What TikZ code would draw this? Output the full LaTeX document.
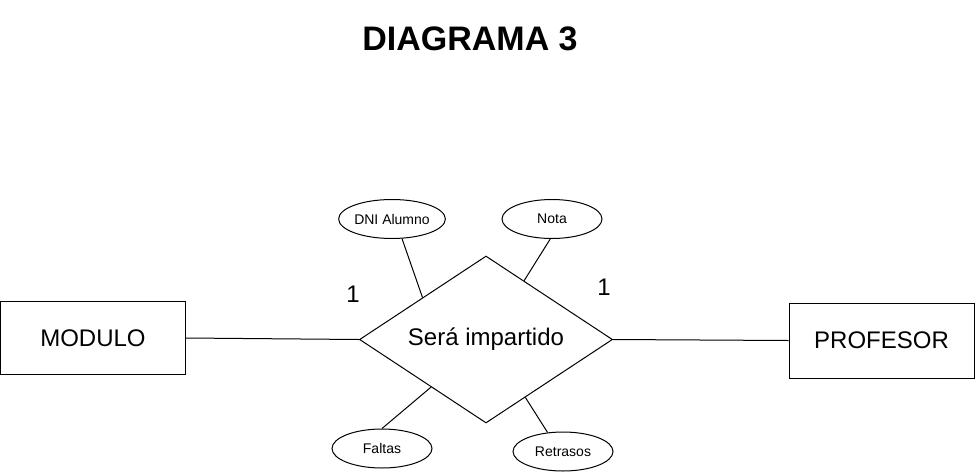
\documentclass[tikz,border=0pt]{standalone}
\usepackage{fontspec}
\setmainfont{Liberation Sans}
\usetikzlibrary{shapes.geometric,calc}
\tikzset{
  entbox/.style={draw,line width=1pt,minimum width=185pt,minimum height=73pt,inner sep=0pt,font=\fontsize{24}{28}\selectfont},
  attr/.style={draw,ellipse,line width=1pt,minimum width=100pt,minimum height=39pt,inner sep=0pt,font=\fontsize{14}{16}\selectfont},
  rel/.style={draw,diamond,line width=1pt,minimum width=253pt,minimum height=167pt,aspect=1.515,inner sep=0pt,font=\fontsize{24}{28}\selectfont},
  card/.style={font=\fontsize{24}{28}\selectfont,inner sep=0pt},
  link/.style={line width=1pt}
}
\begin{document}
\begin{tikzpicture}[x=1pt,y=-1pt]
\useasboundingbox (0,0) rectangle (976,474);
% title
\node[font=\bfseries\fontsize{34}{38}\selectfont] (title) at (470,39) {DIAGRAMA 3};
% entities and relationship
\node[entbox] (modulo) at (93,338) {MODULO};
\node[entbox,minimum height=75pt] (profesor) at (881.5,340.5) {PROFESOR};
\node[rel] (imparte) at (486,339.5) {Será impartido};
% attributes
\node[attr] (dni) at (392,219) {DNI Alumno};
\node[attr] (nota) at (552,219) {Nota};
\node[attr] (faltas) at (382,448.5) {Faltas};
\node[attr] (retrasos) at (563,451.5) {Retrasos};
% cardinalities
\node[card] (cardmod) at (353,294) {1};
\node[card] (cardprof) at (604,287) {1};
% connectors
\draw[link] (modulo.east) -- (imparte.west);
\draw[link] (imparte.east) -- (profesor.west);
\draw[link] (dni.-63) -- ($(imparte.west)!0.5!(imparte.north)$);
\draw[link] (nota.-95) -- ($(imparte.north)!0.3!(imparte.east)$);
\draw[link] (faltas.north) -- ($(imparte.west)!0.567!(imparte.south)$);
\draw[link] (retrasos.129) -- ($(imparte.south)!0.31!(imparte.east)$);
\end{tikzpicture}
\end{document}
